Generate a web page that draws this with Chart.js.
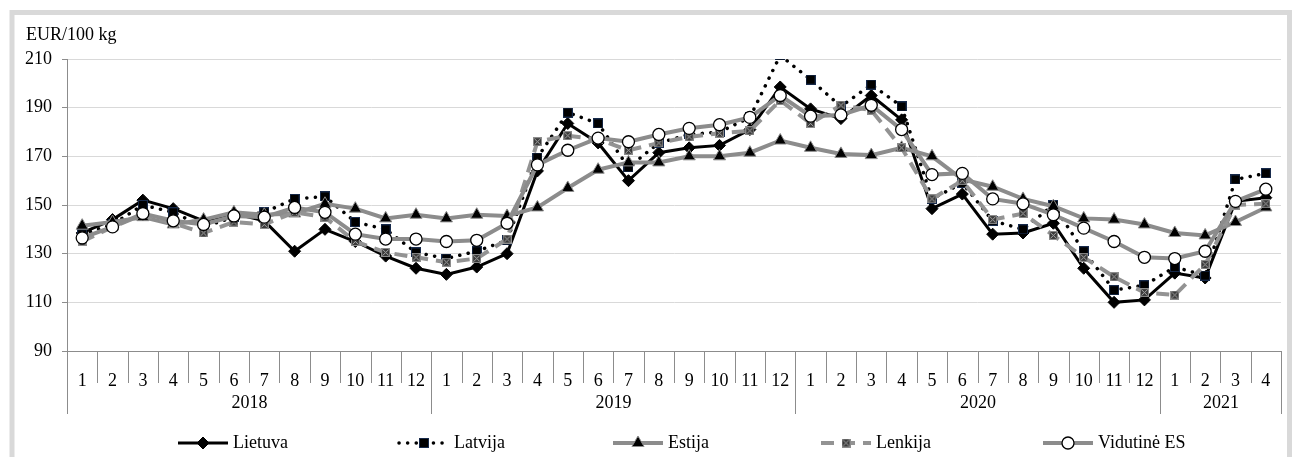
<!DOCTYPE html>
<html>
<head>
<meta charset="utf-8">
<script src="https://cdn.jsdelivr.net/npm/chart.js@4.4.1/dist/chart.umd.min.js"></script>
<style>
  html, body { margin: 0; padding: 0; background: #fff; }
  #wrap { position: relative; width: 1292px; height: 457px; }
</style>
</head>
<body>
<div id="wrap"><canvas id="priceChart"></canvas></div>
<script>
var months = ['1','2','3','4','5','6','7','8','9','10','11','12',
              '1','2','3','4','5','6','7','8','9','10','11','12',
              '1','2','3','4','5','6','7','8','9','10','11','12',
              '1','2','3','4'];
var years = ['2018', '2019', '2020', '2021'];
var monthsInYear = [12, 12, 12, 4];
var unitLabel = 'EUR/100 kg';

var lietuva = [138.5, 144, 152, 148.5, 143.5, 146.5, 143.5, 131, 140, 135, 129, 124,
               121.5, 124.5, 130, 164, 183.5, 175.5, 160, 171.5, 173.5, 174.5, 181, 198.5,
               189.5, 185.5, 195, 185, 148.5, 154.5, 138, 138.5, 142.5, 124, 110, 111,
               122, 120, 151.5, 153];
var latvija = [138, 142, 150, 147, 141, 145, 147, 152.5, 153.5, 143, 140, 130.5,
               128, 131, 135.5, 169.5, 188, 183.5, 165.5, 175.5, 179, 180, 186, 211.5,
               201.5, 190.5, 199.5, 190.5, 152.5, 159, 143.5, 140, 150, 131, 115, 117,
               124.5, 121, 160.5, 163];
var estija = [141.5, 143, 145, 142, 144, 147, 146, 146.5, 150.5, 148.5, 144.5, 146,
              144.5, 146, 145.5, 149, 157, 164.5, 167.5, 167.5, 170, 170, 171.5, 176.5,
              173.5, 171, 170.5, 173.5, 170, 160.5, 157.5, 152.5, 149.5, 144.5, 144, 142,
              138.5, 137.5, 143, 149];
var lenkija = [135, 141, 146, 142.5, 138.5, 143, 142, 147, 145, 135, 130.5, 128.5,
               126.5, 128, 136, 176, 178.5, 177, 172.5, 175.5, 178, 179.5, 180.5, 193,
               183.5, 191, 189, 173.5, 152.5, 160, 144, 146.5, 137.5, 128.5, 120.5, 114,
               113, 125.5, 150, 150.5];
var vidutineES = [136.5, 141, 146.5, 143.5, 142, 145.5, 145, 149, 147, 138, 136, 136,
                  135, 135.5, 142.5, 166.5, 172.5, 177.5, 176, 179, 181.5, 183, 186, 195,
                  186.5, 187, 191, 181, 162.5, 163, 152.5, 150.5, 146, 140.5, 135, 128.5,
                  128, 131, 151.5, 156.5];

Chart.defaults.font.family = '"Liberation Serif", "Times New Roman", serif';
Chart.defaults.font.size = 18;
Chart.defaults.color = '#000';

// little bitmaps for the excel-like markers
function squareMarker(size, fill, edge, dotted) {
    var c = document.createElement('canvas');
    c.width = size; c.height = size;
    var g = c.getContext('2d');
    g.fillStyle = fill;
    g.fillRect(0, 0, size, size);
    g.strokeStyle = edge;
    g.lineWidth = 1;
    if (dotted) g.setLineDash([1, 1]);
    g.strokeRect(0.5, 0.5, size - 1, size - 1);
    return c;
}
function crossMarker(size) {
    var c = squareMarker(size, '#3a3a3a', '#8c8c8c', false);
    var g = c.getContext('2d');
    g.strokeStyle = '#a8a8a8';
    g.lineWidth = 1;
    g.beginPath();
    g.moveTo(1.5, 1.5); g.lineTo(size - 1.5, size - 1.5);
    g.moveTo(size - 1.5, 1.5); g.lineTo(1.5, size - 1.5);
    g.stroke();
    return c;
}
var latvijaMark = squareMarker(10, '#000', '#2f5597', true);
var lenkijaMark = crossMarker(9);

var frame = {
    id: 'frame',
    beforeDraw: function (chart) {
        var ctx = chart.ctx;
        ctx.save();
        ctx.fillStyle = '#fff';
        ctx.fillRect(0, 0, chart.width, chart.height);
        ctx.strokeStyle = '#d9d9d9';
        ctx.lineWidth = 5;
        ctx.strokeRect(12, 12.5, 1277.5, 470);
        ctx.fillStyle = '#000';
        ctx.font = '18px "Liberation Serif"';
        ctx.textBaseline = 'middle';
        ctx.fillText(unitLabel, 26, 35);
        ctx.restore();
    }
};

var monthYearAxis = {
    id: 'monthYearAxis',
    afterDraw: function (chart) {
        var ctx = chart.ctx, xs = chart.scales.x, area = chart.chartArea;
        var step = xs.getPixelForValue(1) - xs.getPixelForValue(0);
        function edge(i) { return Math.round(xs.getPixelForValue(i) - step / 2) + 0.5; }
        ctx.save();
        ctx.strokeStyle = '#8c8c8c';
        ctx.lineWidth = 1;
        ctx.beginPath();
        ctx.moveTo(area.left, Math.round(area.bottom) + 0.5);
        ctx.lineTo(area.right, Math.round(area.bottom) + 0.5);
        for (var i = 0; i <= months.length; i++) {
            ctx.moveTo(edge(i), area.bottom);
            ctx.lineTo(edge(i), area.bottom + 32);
        }
        var k = 0;
        ctx.fillStyle = '#000';
        ctx.font = '18px "Liberation Serif"';
        ctx.textAlign = 'center';
        ctx.textBaseline = 'middle';
        years.forEach(function (yr, j) {
            var a = edge(k), b = edge(k + monthsInYear[j]);
            ctx.moveTo(a, area.bottom); ctx.lineTo(a, area.bottom + 63);
            ctx.moveTo(b, area.bottom); ctx.lineTo(b, area.bottom + 63);
            ctx.fillText(yr, (a + b) / 2, area.bottom + 52);
            k += monthsInYear[j];
        });
        ctx.stroke();
        ctx.restore();
    }
};

var excelLegend = {
    id: 'excelLegend',
    afterDraw: function (chart) {
        var ctx = chart.ctx;
        var starts = [178, 399, 613, 821, 1043];
        var y = 443;
        chart.data.datasets.forEach(function (ds, i) {
            var x0 = starts[i];
            ctx.save();
            ctx.strokeStyle = ds.borderColor;
            ctx.lineWidth = ds.borderWidth;
            ctx.lineCap = ds.borderCapStyle || 'butt';
            ctx.setLineDash(ds.borderDash || []);
            ctx.beginPath();
            ctx.moveTo(x0, y); ctx.lineTo(x0 + 50, y);
            ctx.stroke();
            ctx.setLineDash([]);
            ctx.fillStyle = ds.pointBackgroundColor;
            ctx.strokeStyle = ds.pointBorderColor;
            ctx.lineWidth = ds.pointBorderWidth;
            Chart.helpers.drawPoint(ctx, {
                pointStyle: ds.pointStyle, radius: ds.pointRadius,
                rotation: 0, borderWidth: ds.pointBorderWidth
            }, x0 + 25, y);
            ctx.fillStyle = '#000';
            ctx.font = '18px "Liberation Serif"';
            ctx.textBaseline = 'middle';
            ctx.fillText(ds.label, x0 + 55, y);
            ctx.restore();
        });
    }
};

var ctx = document.getElementById('priceChart').getContext('2d');
var priceChart = new Chart(ctx, {
    type: 'line',
    data: {
        labels: months,
        datasets: [{
            label: 'Lietuva', data: lietuva, order: 5,
            borderColor: '#000', borderWidth: 3,
            pointStyle: 'rectRot', pointRadius: 6,
            pointBackgroundColor: '#000', pointBorderColor: '#000', pointBorderWidth: 1
        }, {
            label: 'Latvija', data: latvija, order: 4,
            borderColor: '#000', borderWidth: 3.5, borderDash: [0.1, 8.5], borderCapStyle: 'round',
            pointStyle: latvijaMark, pointRadius: 6,
            pointBackgroundColor: '#000', pointBorderColor: '#2f5597', pointBorderWidth: 1
        }, {
            label: 'Estija', data: estija, order: 3,
            borderColor: '#8c8c8c', borderWidth: 4,
            pointStyle: 'triangle', pointRadius: 7,
            pointBackgroundColor: '#000', pointBorderColor: '#8c8c8c', pointBorderWidth: 1
        }, {
            label: 'Lenkija', data: lenkija, order: 2,
            borderColor: '#939393', borderWidth: 4, borderDash: [13, 8],
            pointStyle: lenkijaMark, pointRadius: 5,
            pointBackgroundColor: '#3a3a3a', pointBorderColor: '#8c8c8c', pointBorderWidth: 1
        }, {
            label: 'Vidutinė ES', data: vidutineES, order: 1,
            borderColor: '#8c8c8c', borderWidth: 4,
            pointStyle: 'circle', pointRadius: 6,
            pointBackgroundColor: '#fff', pointBorderColor: '#000', pointBorderWidth: 1.3
        }]
    },
    options: {
        responsive: true,
        maintainAspectRatio: false,
        animation: false,
        elements: { line: { tension: 0 } },
        layout: { padding: { left: 15, top: 59, right: 11, bottom: 0 } },
        plugins: { legend: { display: false }, tooltip: { enabled: false } },
        scales: {
            x: {
                offset: true,
                grid: { display: false },
                border: { display: false },
                ticks: { padding: 11, autoSkip: false, maxRotation: 0, color: '#000' },
                afterFit: function (s) { s.height = 106; }
            },
            y: {
                min: 90, max: 210,
                ticks: { stepSize: 20, padding: 10, color: '#000' },
                grid: { color: '#d9d9d9', tickColor: '#8c8c8c', tickLength: 5 },
                border: { color: '#8c8c8c', width: 1 },
                afterFit: function (s) { s.width = 52; }
            }
        }
    },
    plugins: [frame, monthYearAxis, excelLegend]
});
</script>
</body>
</html>
